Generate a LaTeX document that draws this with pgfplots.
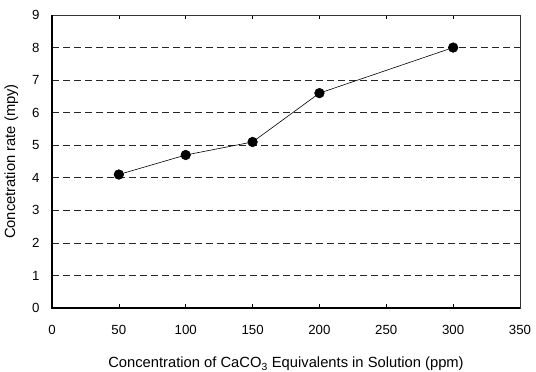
\documentclass[border=0pt]{standalone}
\usepackage{pgfplots}
\pgfplotsset{compat=1.18}
\usepackage{fontspec}
\setmainfont{Liberation Sans}
\begin{document}
\begin{tikzpicture}[x=1bp,y=1bp]
\path[use as bounding box] (-52,-63) rectangle (484,308);
\begin{axis}[
  at={(0,0)}, anchor=origin,
  scale only axis, width=468bp, height=293bp,
  xmin=0, xmax=350, ymin=0, ymax=9,
  xtick={0,50,...,350}, ytick={0,1,...,9},
  tick align=inside,
  ytick style={draw=none},
  xtick style={black, line width=0.6pt},
  major tick length=4bp,
  ymajorgrids,
  major grid style={black!85, line width=0.6pt, dash pattern=on 7bp off 4bp},
  axis line style={black!80, line width=0.6pt},
  tick label style={font=\fontsize{13.3}{15}\selectfont},
  /pgf/number format/assume math mode=true,
  xticklabel style={anchor=center, yshift=-22bp},
  yticklabel style={anchor=east, xshift=-9bp},
  xlabel={Concentration of CaCO\textsubscript{3} Equivalents in Solution (ppm)},
  ylabel={Concetration rate (mpy)},
  xlabel style={font=\fontsize{14.8}{16}\selectfont, at={(axis description cs:0.5,-0.191)}, anchor=center},
  ylabel style={font=\fontsize{14.8}{16}\selectfont, at={(axis description cs:-0.087,0.5)}, anchor=center},
  clip=false,
]
\addplot[black, line width=0.6pt, mark=*, mark size=4.8bp] coordinates {
  (50,4.1) (100,4.7) (150,5.1) (200,6.6) (300,8.0)
};
\draw[line width=1.6pt, black] (rel axis cs:0,1) -- (rel axis cs:0,0) -- (rel axis cs:1,0);
\end{axis}
\end{tikzpicture}
\end{document}
